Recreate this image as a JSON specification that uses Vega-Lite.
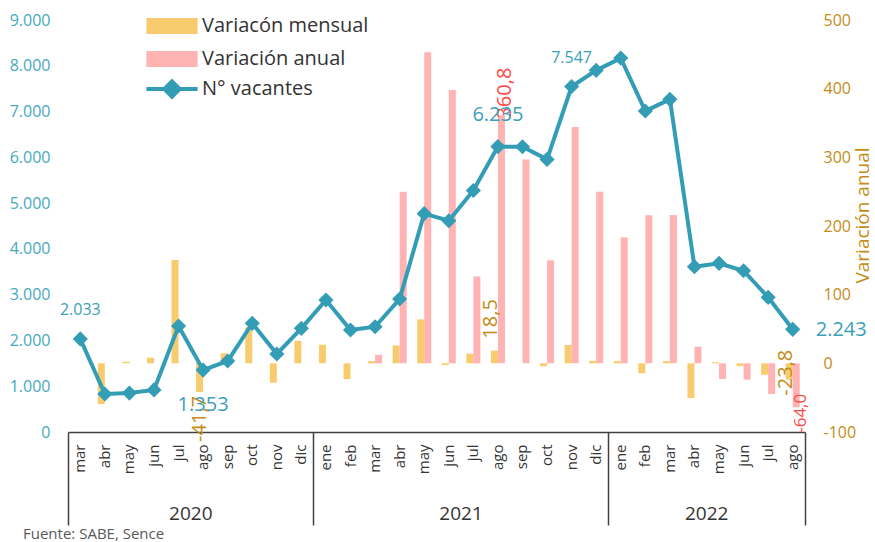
{
  "$schema": "https://vega.github.io/schema/vega-lite/v6.json",
  "width": 737,
  "height": 412,
  "autosize": {"type": "none"},
  "padding": {"left": 68, "top": 20, "right": 70, "bottom": 110},
  "background": "white",
  "config": {
    "locale": {"number": {"decimal": ",", "thousands": ".", "grouping": [3], "currency": ["$", ""], "minus": "-"}},
    "view": {"stroke": null},
    "font": "Open Sans",
    "axis": {"grid": false, "labelFont": "Open Sans", "titleFont": "Open Sans"},
    "legend": {"labelFont": "Open Sans"},
    "text": {"font": "Open Sans"}
  },
  "title": {"text": "Fuente: SABE, Sence", "orient": "bottom", "anchor": "start", "frame": "group", "dx": -45, "offset": 1, "fontSize": 15, "fontWeight": "normal", "color": "#595959", "font": "Open Sans"},
  "data": {"values": [
    {"k": "mar 2020", "vac": 2033, "mens": null, "anual": null},
    {"k": "abr 2020", "vac": 830, "mens": -59.2, "anual": null},
    {"k": "may 2020", "vac": 850, "mens": 2.4, "anual": null},
    {"k": "jun 2020", "vac": 920, "mens": 8.2, "anual": null},
    {"k": "jul 2020", "vac": 2315, "mens": 150.5, "anual": null},
    {"k": "ago 2020", "vac": 1353, "mens": -41.7, "anual": null},
    {"k": "sep 2020", "vac": 1551, "mens": 14.6, "anual": null},
    {"k": "oct 2020", "vac": 2374, "mens": 52.5, "anual": null},
    {"k": "nov 2020", "vac": 1704, "mens": -28.2, "anual": null},
    {"k": "dic 2020", "vac": 2265, "mens": 32.7, "anual": null},
    {"k": "ene 2021", "vac": 2883, "mens": 27.0, "anual": null},
    {"k": "feb 2021", "vac": 2228, "mens": -22.9, "anual": null},
    {"k": "mar 2021", "vac": 2300, "mens": 3.2, "anual": 12.5},
    {"k": "abr 2021", "vac": 2905, "mens": 26.0, "anual": 250},
    {"k": "may 2021", "vac": 4770, "mens": 64.0, "anual": 453},
    {"k": "jun 2021", "vac": 4615, "mens": -2.6, "anual": 398},
    {"k": "jul 2021", "vac": 5276, "mens": 14.1, "anual": 126.5},
    {"k": "ago 2021", "vac": 6235, "mens": 18.5, "anual": 360.8},
    {"k": "sep 2021", "vac": 6232, "mens": -0.1, "anual": 297},
    {"k": "oct 2021", "vac": 5955, "mens": -4.3, "anual": 150},
    {"k": "nov 2021", "vac": 7547, "mens": 26.7, "anual": 344},
    {"k": "dic 2021", "vac": 7900, "mens": 3.6, "anual": 250},
    {"k": "ene 2022", "vac": 8168, "mens": 3.2, "anual": 183.4},
    {"k": "feb 2022", "vac": 7012, "mens": -14.5, "anual": 215.8},
    {"k": "mar 2022", "vac": 7267, "mens": 3.2, "anual": 216},
    {"k": "abr 2022", "vac": 3611, "mens": -50.6, "anual": 24.3},
    {"k": "may 2022", "vac": 3685, "mens": 1.8, "anual": -22.8},
    {"k": "jun 2022", "vac": 3523, "mens": -3.8, "anual": -23.8},
    {"k": "jul 2022", "vac": 2942, "mens": -16.7, "anual": -44.6},
    {"k": "ago 2022", "vac": 2243, "mens": -23.8, "anual": -64.0}
  ]},
  "layer": [
    {
      "transform": [{"fold": ["mens", "anual"], "as": ["serie", "v"]}],
      "mark": {"type": "bar"},
      "encoding": {
        "x": {
          "field": "k", "type": "nominal",
          "scale": {"type": "band", "paddingInner": 0, "paddingOuter": 0, "domain": ["mar 2020","abr 2020","may 2020","jun 2020","jul 2020","ago 2020","sep 2020","oct 2020","nov 2020","dic 2020","ene 2021","feb 2021","mar 2021","abr 2021","may 2021","jun 2021","jul 2021","ago 2021","sep 2021","oct 2021","nov 2021","dic 2021","ene 2022","feb 2022","mar 2022","abr 2022","may 2022","jun 2022","jul 2022","ago 2022"]},
          "axis": {"orient": "bottom", "title": null, "labelAngle": 270, "labelExpr": "split(datum.value, ' ')[0]", "ticks": false, "tickSize": 0, "labelPadding": 12, "labelFontSize": 15, "labelColor": "#333333", "domainColor": "#404040", "domainWidth": 1.5, "labelOverlap": false}
        },
        "xOffset": {"field": "serie", "type": "nominal", "scale": {"domain": ["mens", "anual"], "paddingInner": 0, "paddingOuter": 0.75}},
        "y": {
          "field": "v", "type": "quantitative",
          "scale": {"domain": [-100, 500], "nice": false, "zero": false},
          "axis": {"orient": "right", "values": [-100, 0, 100, 200, 300, 400, 500], "format": "d", "ticks": false, "tickSize": 0, "domain": false, "labelPadding": 18, "labelFontSize": 16, "labelColor": "#c48c16", "title": "Variación anual", "titleColor": "#c48c16", "titleFontSize": 19, "titleFontWeight": "normal", "titleAngle": 270, "titlePadding": 17, "titleY": 195}
        },
        "color": {
          "field": "serie", "type": "nominal",
          "scale": {"domain": ["mens", "anual"], "range": ["#f9cb6f", "#ffb3b3"]},
          "legend": {"title": null, "orient": "none", "legendX": 88, "legendY": -10, "direction": "vertical", "symbolType": "M-1.6,-0.5H1.6V0.5H-1.6Z", "symbolSize": 1024, "symbolStrokeWidth": 0, "labelFontSize": 20, "labelColor": "#333333", "labelOffset": 14, "rowPadding": 7, "padding": 0, "labelLimit": 0, "labelExpr": "datum.value == 'mens' ? 'Variacón mensual' : 'Variación anual'"}
        }
      }
    },
    {
      "transform": [{"fold": ["mens", "anual"], "as": ["serie", "v"]}, {"filter": "datum.k == 'ago 2020' && datum.serie == 'mens'"}],
      "mark": {"type": "text", "angle": 270, "align": "right", "baseline": "middle", "dx": -4, "fontSize": 20, "color": "#c48c16"},
      "encoding": {
        "x": {"field": "k", "type": "nominal", "axis": null},
        "xOffset": {"field": "serie", "type": "nominal"},
        "y": {"field": "v", "type": "quantitative", "scale": {"domain": [-100, 500], "nice": false, "zero": false}, "axis": null},
        "text": {"field": "v", "type": "quantitative", "format": ".1f"}
      }
    },
    {
      "transform": [{"fold": ["mens", "anual"], "as": ["serie", "v"]}, {"filter": "datum.k == 'ago 2021' && datum.serie == 'mens'"}],
      "mark": {"type": "text", "angle": 270, "align": "left", "baseline": "middle", "dx": 12, "dy": -3, "fontSize": 20, "color": "#c48c16"},
      "encoding": {
        "x": {"field": "k", "type": "nominal", "axis": null},
        "xOffset": {"field": "serie", "type": "nominal"},
        "y": {"field": "v", "type": "quantitative", "scale": {"domain": [-100, 500], "nice": false, "zero": false}, "axis": null},
        "text": {"field": "v", "type": "quantitative", "format": ".1f"}
      }
    },
    {
      "transform": [{"fold": ["mens", "anual"], "as": ["serie", "v"]}, {"filter": "datum.k == 'ago 2021' && datum.serie == 'anual'"}],
      "mark": {"type": "text", "angle": 270, "align": "left", "baseline": "middle", "dx": -3, "dy": 4, "fontSize": 20, "color": "#ff4a4a"},
      "encoding": {
        "x": {"field": "k", "type": "nominal", "axis": null},
        "xOffset": {"field": "serie", "type": "nominal"},
        "y": {"field": "v", "type": "quantitative", "scale": {"domain": [-100, 500], "nice": false, "zero": false}, "axis": null},
        "text": {"field": "v", "type": "quantitative", "format": ".1f"}
      }
    },
    {
      "transform": [{"fold": ["mens", "anual"], "as": ["serie", "v"]}, {"filter": "datum.k == 'ago 2022' && datum.serie == 'mens'"}],
      "mark": {"type": "text", "angle": 270, "align": "center", "baseline": "middle", "dx": 7, "dy": -3, "fontSize": 20, "color": "#c48c16"},
      "encoding": {
        "x": {"field": "k", "type": "nominal", "axis": null},
        "xOffset": {"field": "serie", "type": "nominal"},
        "y": {"field": "v", "type": "quantitative", "scale": {"domain": [-100, 500], "nice": false, "zero": false}, "axis": null},
        "text": {"field": "v", "type": "quantitative", "format": ".1f"}
      }
    },
    {
      "transform": [{"fold": ["mens", "anual"], "as": ["serie", "v"]}, {"filter": "datum.k == 'ago 2022' && datum.serie == 'anual'"}],
      "mark": {"type": "text", "angle": 270, "align": "center", "baseline": "middle", "dx": -6, "dy": 5, "fontSize": 17, "color": "#ff4a4a"},
      "encoding": {
        "x": {"field": "k", "type": "nominal", "axis": null},
        "xOffset": {"field": "serie", "type": "nominal"},
        "y": {"field": "v", "type": "quantitative", "scale": {"domain": [-100, 500], "nice": false, "zero": false}, "axis": null},
        "text": {"field": "v", "type": "quantitative", "format": ".1f"}
      }
    },
    {
      "mark": {"type": "line", "strokeWidth": 4, "point": {"shape": "diamond", "size": 230, "filled": true}},
      "encoding": {
        "x": {"field": "k", "type": "nominal", "axis": null},
        "y": {
          "field": "vac", "type": "quantitative",
          "scale": {"domain": [0, 9000], "nice": false},
          "axis": {"orient": "left", "values": [0, 1000, 2000, 3000, 4000, 5000, 6000, 7000, 8000, 9000], "format": ",.0f", "ticks": false, "tickSize": 0, "domain": false, "labelPadding": 18, "labelFontSize": 16, "labelColor": "#46a9c2", "title": null}
        },
        "color": {
          "datum": "N° vacantes",
          "scale": {"range": ["#349db6"]},
          "legend": {"title": null, "orient": "none", "legendX": 86, "legendY": 51, "symbolType": "M-1.6,0H1.6M0,-0.48L0.48,0L0,0.48L-0.48,0Z", "symbolSize": 1024, "symbolStrokeWidth": 4, "symbolFillColor": "#349db6", "labelFontSize": 20, "labelColor": "#333333", "labelOffset": 12, "padding": 0, "labelLimit": 0}
        }
      }
    },
    {
      "transform": [{"filter": {"field": "k", "oneOf": ["mar 2020", "nov 2021"]}}],
      "mark": {"type": "text", "fontSize": 16, "dy": -29, "color": "#3aa0b9"},
      "encoding": {
        "x": {"field": "k", "type": "nominal", "axis": null},
        "y": {"field": "vac", "type": "quantitative", "scale": {"domain": [0, 9000], "nice": false}, "axis": null},
        "text": {"field": "vac", "type": "quantitative", "format": ",.0f"}
      }
    },
    {
      "transform": [{"filter": {"field": "k", "equal": "ago 2021"}}],
      "mark": {"type": "text", "fontSize": 20, "dy": -32, "color": "#3aa0b9"},
      "encoding": {
        "x": {"field": "k", "type": "nominal", "axis": null},
        "y": {"field": "vac", "type": "quantitative", "scale": {"domain": [0, 9000], "nice": false}, "axis": null},
        "text": {"field": "vac", "type": "quantitative", "format": ",.0f"}
      }
    },
    {
      "transform": [{"filter": {"field": "k", "equal": "ago 2020"}}],
      "mark": {"type": "text", "fontSize": 20, "dy": 35, "color": "#3aa0b9"},
      "encoding": {
        "x": {"field": "k", "type": "nominal", "axis": null},
        "y": {"field": "vac", "type": "quantitative", "scale": {"domain": [0, 9000], "nice": false}, "axis": null},
        "text": {"field": "vac", "type": "quantitative", "format": ",.0f"}
      }
    },
    {
      "transform": [{"filter": {"field": "k", "equal": "ago 2022"}}],
      "mark": {"type": "text", "fontSize": 20, "align": "left", "dx": 23, "dy": 1, "color": "#3aa0b9"},
      "encoding": {
        "x": {"field": "k", "type": "nominal", "axis": null},
        "y": {"field": "vac", "type": "quantitative", "scale": {"domain": [0, 9000], "nice": false}, "axis": null},
        "text": {"field": "vac", "type": "quantitative", "format": ",.0f"}
      }
    },
    {
      "mark": {"type": "point", "opacity": 0},
      "encoding": {
        "x": {"field": "k", "type": "nominal", "axis": {"orient": "bottom", "values": ["ago 2020", "jul 2021", "may 2022"], "ticks": false, "tickSize": 0, "domain": false, "labelAngle": 0, "labelAlign": "center", "labelBaseline": "middle", "labelPadding": 81, "labelOffset": -12.28, "labelFontSize": 19, "labelColor": "#333333", "labelExpr": "split(datum.value, ' ')[1]", "title": null, "labelOverlap": false}}
      }
    },
    {
      "mark": {"type": "point", "opacity": 0},
      "encoding": {
        "x": {"field": "k", "type": "nominal", "axis": {"orient": "bottom", "values": ["mar 2020", "ene 2021", "ene 2022"], "bandPosition": 0, "tickSize": 93, "tickColor": "#404040", "tickWidth": 1.5, "labels": false, "domain": false, "title": null}}
      }
    },
    {
      "mark": {"type": "point", "opacity": 0},
      "encoding": {
        "x": {"field": "k", "type": "nominal", "axis": {"orient": "bottom", "values": ["ago 2022"], "bandPosition": 1, "tickSize": 93, "tickColor": "#404040", "tickWidth": 1.5, "labels": false, "domain": false, "title": null}}
      }
    }
  ],
  "resolve": {"scale": {"y": "independent", "color": "independent"}, "axis": {"x": "independent"}}
}
